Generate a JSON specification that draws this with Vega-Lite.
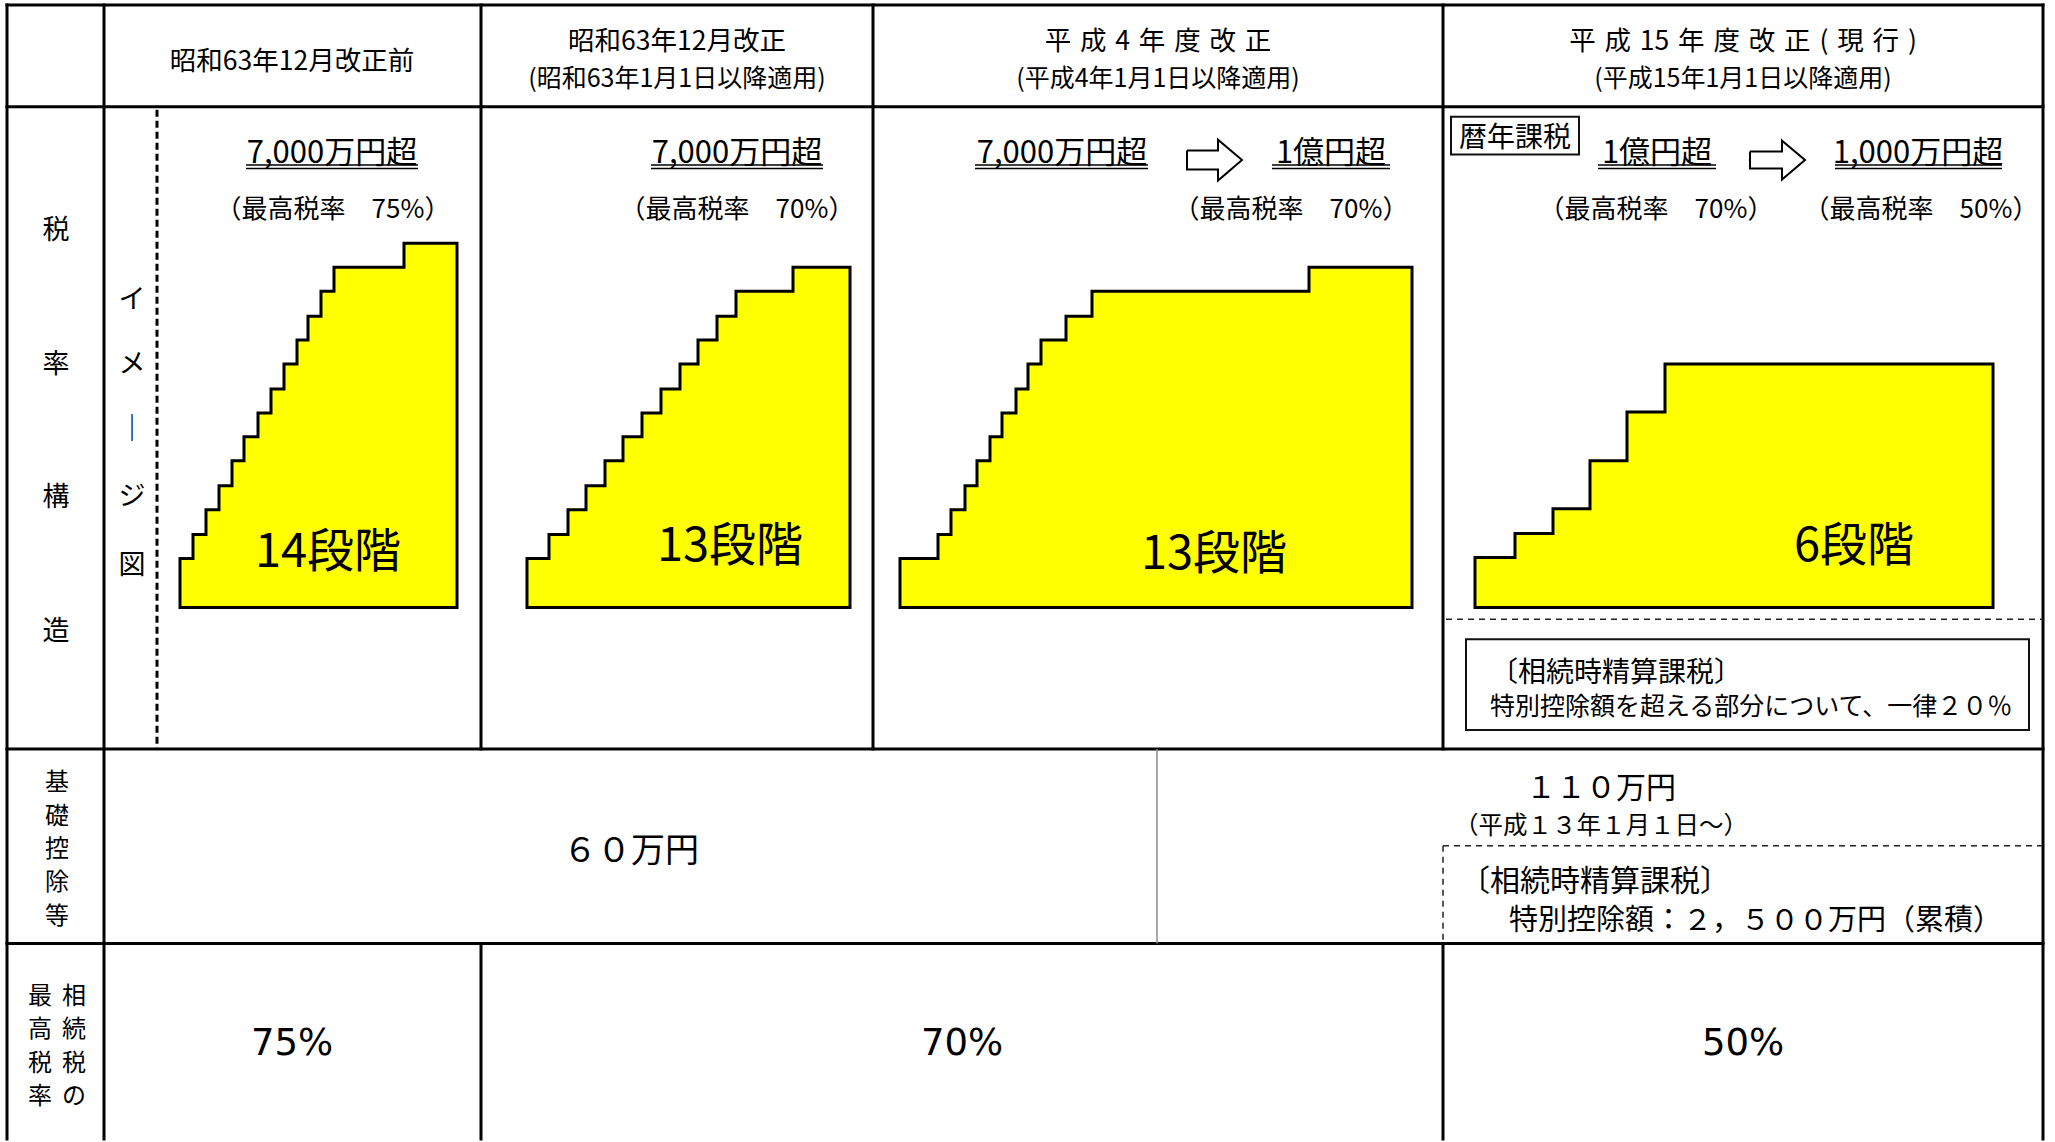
{
"$schema":"https://vega.github.io/schema/vega-lite/v6.json",
"width":2055,"height":1142,"padding":0,
"autosize":{"type":"fit","contains":"padding"},
"background":"#ffffff",
"config":{"view":{"stroke":null}},
"datasets":{
"stairs":[
{"g":"s1","x":180,"y":560},{"g":"s1","x":193,"y":536},{"g":"s1","x":206,"y":511},{"g":"s1","x":219,"y":487},{"g":"s1","x":232,"y":462},{"g":"s1","x":244,"y":438},{"g":"s1","x":258,"y":414},{"g":"s1","x":271,"y":390},{"g":"s1","x":284,"y":365},{"g":"s1","x":297,"y":341},{"g":"s1","x":308,"y":317},{"g":"s1","x":321,"y":292},{"g":"s1","x":334,"y":268},{"g":"s1","x":404,"y":244},{"g":"s1","x":457,"y":244},
{"g":"s2","x":527,"y":560},{"g":"s2","x":549,"y":536},{"g":"s2","x":568,"y":511},{"g":"s2","x":586,"y":487},{"g":"s2","x":605,"y":462},{"g":"s2","x":623,"y":438},{"g":"s2","x":642,"y":414},{"g":"s2","x":661,"y":390},{"g":"s2","x":680,"y":365},{"g":"s2","x":698,"y":341},{"g":"s2","x":717,"y":317},{"g":"s2","x":736,"y":292},{"g":"s2","x":793,"y":268},{"g":"s2","x":850,"y":268},
{"g":"s3","x":900,"y":560},{"g":"s3","x":938,"y":536},{"g":"s3","x":951,"y":511},{"g":"s3","x":965,"y":487},{"g":"s3","x":977,"y":462},{"g":"s3","x":990,"y":438},{"g":"s3","x":1002,"y":414},{"g":"s3","x":1016,"y":390},{"g":"s3","x":1028,"y":365},{"g":"s3","x":1041,"y":341},{"g":"s3","x":1066,"y":317},{"g":"s3","x":1092,"y":292},{"g":"s3","x":1309,"y":268},{"g":"s3","x":1412,"y":268},
{"g":"s4","x":1475,"y":559},{"g":"s4","x":1515,"y":535},{"g":"s4","x":1553,"y":510},{"g":"s4","x":1590,"y":462},{"g":"s4","x":1627,"y":413},{"g":"s4","x":1665,"y":365},{"g":"s4","x":1993,"y":365}
],
"solid":[
{"x":7,"x2":2043,"y":5,"y2":5},
{"x":7,"x2":2043,"y":107,"y2":107},
{"x":7,"x2":2043,"y":751,"y2":751},
{"x":7,"x2":2043,"y":946,"y2":946},
{"x":7,"x2":7,"y":5,"y2":1142},
{"x":104,"x2":104,"y":5,"y2":1142},
{"x":481,"x2":481,"y":5,"y2":751},
{"x":481,"x2":481,"y":946,"y2":1142},
{"x":873,"x2":873,"y":5,"y2":751},
{"x":1443,"x2":1443,"y":5,"y2":751},
{"x":1443,"x2":1443,"y":946,"y2":1142},
{"x":2043,"x2":2043,"y":5,"y2":1142}
],
"thin":[{"x":1157,"x2":1157,"y":751,"y2":946}],
"dash1":[{"x":157,"x2":157,"y":110,"y2":751}],
"dash2":[{"x":1446,"x2":2043,"y":621,"y2":621},{"x":1443,"x2":2043,"y":848,"y2":848},{"x":1443,"x2":1443,"y":848,"y2":946}],
"boxes":[{"x":1451,"x2":1579,"y":117,"y2":155},{"x":1466,"x2":2029,"y":641,"y2":732}],
"ul":[
{"x":246,"x2":418,"y":165.5},{"x":246,"x2":418,"y":169},
{"x":651,"x2":823,"y":165.5},{"x":651,"x2":823,"y":169},
{"x":975,"x2":1148,"y":165.5},{"x":975,"x2":1148,"y":169},
{"x":1272,"x2":1390,"y":165.5},{"x":1272,"x2":1390,"y":169},
{"x":1598,"x2":1716,"y":165.5},{"x":1598,"x2":1716,"y":169},
{"x":1835,"x2":2002,"y":165.5},{"x":1835,"x2":2002,"y":169}
],
"arrows":[
{"g":"a1","o":1,"x":1187,"y":151},{"g":"a1","o":2,"x":1218,"y":151},{"g":"a1","o":3,"x":1218,"y":140},{"g":"a1","o":4,"x":1242,"y":160.5},{"g":"a1","o":5,"x":1218,"y":181},{"g":"a1","o":6,"x":1218,"y":170},{"g":"a1","o":7,"x":1187,"y":170},{"g":"a1","o":8,"x":1187,"y":151},
{"g":"a2","o":1,"x":1750,"y":152},{"g":"a2","o":2,"x":1782,"y":152},{"g":"a2","o":3,"x":1782,"y":141},{"g":"a2","o":4,"x":1805,"y":160.5},{"g":"a2","o":5,"x":1782,"y":180},{"g":"a2","o":6,"x":1782,"y":169},{"g":"a2","o":7,"x":1750,"y":169},{"g":"a2","o":8,"x":1750,"y":152}
],
"texts":[
{"k":"h1","t":"昭和63年12月改正前","x":292,"y":58},
{"k":"h1","t":"昭和63年12月改正","x":677,"y":38.5},
{"k":"h1","t":"平\u2004成\u20044\u2004年\u2004度\u2004改\u2004正","x":1158,"y":38.5},
{"k":"h1","t":"平\u2004成\u200415\u2004年\u2004度\u2004改\u2004正\u2004(\u2004現\u2004行\u2004)","x":1743,"y":38.5},
{"k":"h2","t":"(昭和63年1月1日以降適用)","x":677,"y":75.5},
{"k":"h2","t":"(平成4年1月1日以降適用)","x":1158,"y":75.5},
{"k":"h2","t":"(平成15年1月1日以降適用)","x":1743,"y":75.5},
{"k":"lab","t":"税","x":56,"y":228},{"k":"lab","t":"率","x":56,"y":362},{"k":"lab","t":"構","x":56,"y":495},{"k":"lab","t":"造","x":56,"y":630},
{"k":"lab2","t":"基","x":57,"y":782},{"k":"lab2","t":"礎","x":57,"y":816},{"k":"lab2","t":"控","x":57,"y":849},{"k":"lab2","t":"除","x":57,"y":882},{"k":"lab2","t":"等","x":57,"y":916},
{"k":"lab2","t":"最","x":40,"y":997},{"k":"lab2","t":"高","x":40,"y":1030},{"k":"lab2","t":"税","x":40,"y":1064},{"k":"lab2","t":"率","x":40,"y":1097},
{"k":"lab2","t":"相","x":74,"y":997},{"k":"lab2","t":"続","x":74,"y":1030},{"k":"lab2","t":"税","x":74,"y":1064},{"k":"lab2","t":"の","x":74,"y":1097},
{"k":"lab","t":"イ","x":132,"y":297},{"k":"lab","t":"メ","x":132,"y":362},{"k":"lab","t":"｜","x":132,"y":427},{"k":"lab","t":"ジ","x":132,"y":494},{"k":"lab","t":"図","x":132,"y":563},
{"k":"lim","t":"7,000万円超","x":332,"y":151},
{"k":"lim","t":"7,000万円超","x":737,"y":151},
{"k":"lim","t":"7,000万円超","x":1062,"y":151},
{"k":"lim","t":"1億円超","x":1331,"y":151},
{"k":"lim","t":"1億円超","x":1657,"y":151},
{"k":"lim","t":"1,000万円超","x":1918,"y":151},
{"k":"rate","t":"（最高税率　75%）","x":333,"y":207},
{"k":"rate","t":"（最高税率　70%）","x":737,"y":207},
{"k":"rate","t":"（最高税率　70%）","x":1291,"y":207},
{"k":"rate","t":"（最高税率　70%）","x":1656,"y":207},
{"k":"rate","t":"（最高税率　50%）","x":1921,"y":207},
{"k":"big","t":"14段階","x":328,"y":551},
{"k":"big","t":"13段階","x":730,"y":545},
{"k":"big","t":"13段階","x":1214,"y":553},
{"k":"big","t":"6段階","x":1854,"y":545},
{"k":"reki","t":"暦年課税","x":1515,"y":136},
{"k":"noteA","t":"〔相続時精算課税〕","x":1490,"y":672},
{"k":"noteB","t":"特別控除額を超える部分について、一律２０％","x":1490,"y":705},
{"k":"b60","t":"６０万円","x":631,"y":850},
{"k":"b110","t":"１１０万円","x":1601,"y":787},
{"k":"sub","t":"（平成１３年１月１日～）","x":1601,"y":825},
{"k":"note3a","t":"〔相続時精算課税〕","x":1460,"y":880},
{"k":"note3b","t":"特別控除額：２，５００万円（累積）","x":1509,"y":919},
{"k":"row4","t":"75%","x":292,"y":1045},
{"k":"row4","t":"70%","x":962,"y":1045},
{"k":"row4","t":"50%","x":1743,"y":1045}
]
},
"encoding":{
"x":{"field":"x","type":"quantitative","scale":{"domain":[0,2055],"nice":false,"zero":false},"axis":null},
"y":{"field":"y","type":"quantitative","scale":{"domain":[0,1142],"nice":false,"zero":false,"reverse":true},"axis":null}
},
"layer":[
{"data":{"name":"stairs"},
 "mark":{"type":"area","interpolate":"step-after","fill":"#FFFF00","stroke":"#000000","strokeWidth":3,"strokeJoin":"miter"},
 "encoding":{
  "y":{"field":"y","type":"quantitative","stack":null,"scale":{"domain":[0,1142],"nice":false,"zero":false,"reverse":true},"axis":null},
  "y2":{"datum":609},
  "detail":{"field":"g"}}},
{"data":{"name":"solid"},"mark":{"type":"rule","stroke":"#000000","strokeWidth":3,"strokeCap":"square"},
 "encoding":{"x2":{"field":"x2"},"y2":{"field":"y2"}}},
{"data":{"name":"thin"},"mark":{"type":"rule","stroke":"#8c8c8c","strokeWidth":1.5},
 "encoding":{"x2":{"field":"x2"},"y2":{"field":"y2"}}},
{"data":{"name":"dash1"},"mark":{"type":"rule","stroke":"#000000","strokeWidth":3,"strokeDash":[7,4]},
 "encoding":{"x2":{"field":"x2"},"y2":{"field":"y2"}}},
{"data":{"name":"dash2"},"mark":{"type":"rule","stroke":"#222222","strokeWidth":1.5,"strokeDash":[6,5]},
 "encoding":{"x2":{"field":"x2"},"y2":{"field":"y2"}}},
{"data":{"name":"boxes"},"mark":{"type":"rect","filled":false,"stroke":"#111111","strokeWidth":2},
 "encoding":{"x2":{"field":"x2"},"y2":{"field":"y2"}}},
{"data":{"name":"ul"},"mark":{"type":"rule","stroke":"#000000","strokeWidth":1.5},
 "encoding":{"x2":{"field":"x2"}}},
{"data":{"name":"arrows"},"mark":{"type":"line","stroke":"#000000","strokeWidth":2,"strokeJoin":"miter","interpolate":"linear"},
 "encoding":{"order":{"field":"o","type":"quantitative"},"detail":{"field":"g"}}},
{"data":{"name":"texts"},"transform":[{"filter":"datum.k==='h1'"}],
 "mark":{"type":"text","font":"Noto Sans CJK JP","fontSize":26.5,"align":"center","baseline":"middle","dy":4,"color":"#000"},
 "encoding":{"text":{"field":"t"}}},
{"data":{"name":"texts"},"transform":[{"filter":"datum.k==='h2'"}],
 "mark":{"type":"text","font":"Noto Sans CJK JP","fontSize":25,"align":"center","baseline":"middle","dy":4,"color":"#000"},
 "encoding":{"text":{"field":"t"}}},
{"data":{"name":"texts"},"transform":[{"filter":"datum.k==='lab'"}],
 "mark":{"type":"text","font":"Noto Sans CJK JP","fontSize":27,"align":"center","baseline":"middle","dy":4,"color":"#000"},
 "encoding":{"text":{"field":"t"}}},
{"data":{"name":"texts"},"transform":[{"filter":"datum.k==='lab2'"}],
 "mark":{"type":"text","font":"Noto Sans CJK JP","fontSize":24,"align":"center","baseline":"middle","dy":3,"color":"#000"},
 "encoding":{"text":{"field":"t"}}},
{"data":{"name":"texts"},"transform":[{"filter":"datum.k==='lim'"}],
 "mark":{"type":"text","font":"Noto Sans CJK JP","fontSize":31,"align":"center","baseline":"middle","dy":3,"color":"#000"},
 "encoding":{"text":{"field":"t"}}},
{"data":{"name":"texts"},"transform":[{"filter":"datum.k==='rate'"}],
 "mark":{"type":"text","font":"Noto Sans CJK JP","fontSize":26,"align":"center","baseline":"middle","dy":4,"color":"#000"},
 "encoding":{"text":{"field":"t"}}},
{"data":{"name":"texts"},"transform":[{"filter":"datum.k==='big'"}],
 "mark":{"type":"text","font":"Noto Sans CJK JP","fontSize":47,"align":"center","baseline":"middle","dy":3,"color":"#000"},
 "encoding":{"text":{"field":"t"}}},
{"data":{"name":"texts"},"transform":[{"filter":"datum.k==='reki'"}],
 "mark":{"type":"text","font":"Noto Sans CJK JP","fontSize":28,"align":"center","baseline":"middle","dy":3,"color":"#000"},
 "encoding":{"text":{"field":"t"}}},
{"data":{"name":"texts"},"transform":[{"filter":"datum.k==='noteA'"}],
 "mark":{"type":"text","font":"Noto Sans CJK JP","fontSize":28,"align":"left","baseline":"middle","dy":4,"color":"#000"},
 "encoding":{"text":{"field":"t"}}},
{"data":{"name":"texts"},"transform":[{"filter":"datum.k==='noteB'"}],
 "mark":{"type":"text","font":"Noto Sans CJK JP","fontSize":25,"align":"left","baseline":"middle","dy":4,"color":"#000"},
 "encoding":{"text":{"field":"t"}}},
{"data":{"name":"texts"},"transform":[{"filter":"datum.k==='b60'"}],
 "mark":{"type":"text","font":"Noto Sans CJK JP","fontSize":34,"align":"center","baseline":"middle","dy":4,"color":"#000"},
 "encoding":{"text":{"field":"t"}}},
{"data":{"name":"texts"},"transform":[{"filter":"datum.k==='b110'"}],
 "mark":{"type":"text","font":"Noto Sans CJK JP","fontSize":30,"align":"center","baseline":"middle","dy":4,"color":"#000"},
 "encoding":{"text":{"field":"t"}}},
{"data":{"name":"texts"},"transform":[{"filter":"datum.k==='sub'"}],
 "mark":{"type":"text","font":"Noto Sans CJK JP","fontSize":24.5,"align":"center","baseline":"middle","dy":4,"color":"#000"},
 "encoding":{"text":{"field":"t"}}},
{"data":{"name":"texts"},"transform":[{"filter":"datum.k==='note3a'"}],
 "mark":{"type":"text","font":"Noto Sans CJK JP","fontSize":30,"align":"left","baseline":"middle","dy":4,"color":"#000"},
 "encoding":{"text":{"field":"t"}}},
{"data":{"name":"texts"},"transform":[{"filter":"datum.k==='note3b'"}],
 "mark":{"type":"text","font":"Noto Sans CJK JP","fontSize":29,"align":"left","baseline":"middle","dy":4,"color":"#000"},
 "encoding":{"text":{"field":"t"}}},
{"data":{"name":"texts"},"transform":[{"filter":"datum.k==='row4'"}],
 "mark":{"type":"text","font":"DejaVu Sans","fontSize":37,"align":"center","baseline":"middle","dy":2,"color":"#000"},
 "encoding":{"text":{"field":"t"}}}
]
}
